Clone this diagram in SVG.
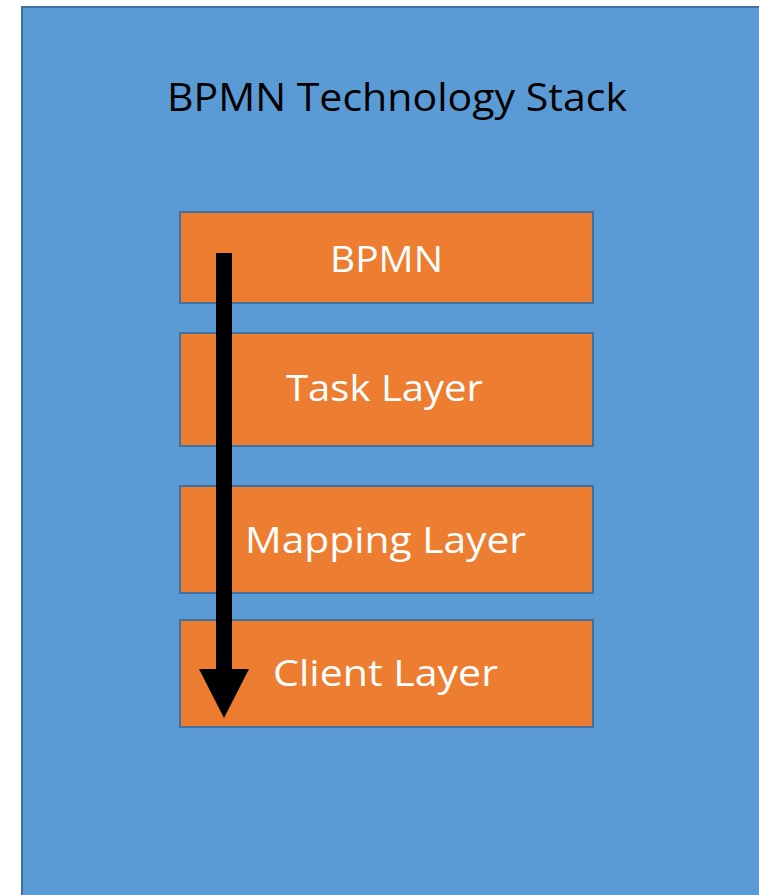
<svg xmlns="http://www.w3.org/2000/svg" width="759" height="895" viewBox="0 0 759 895">
  <style>
    .panel { fill: #5B9BD5; stroke: #41719C; stroke-width: 2; }
    .layer { fill: #ED7D31; stroke: #41719C; stroke-width: 2; }
    .title { font-family: "Open Sans", "Liberation Sans", sans-serif; font-size: 39px; fill: #000000; text-anchor: middle; }
    .label { font-family: "Open Sans", "Liberation Sans", sans-serif; font-size: 37px; fill: #FFFFFF; text-anchor: middle; }
  </style>
  <rect width="759" height="895" fill="#FFFFFF"/>

  <!-- outer panel -->
  <g id="stack">
    <rect class="panel" x="22" y="7" width="745" height="900"/>
    <text class="title" x="397" y="111" textLength="460" lengthAdjust="spacingAndGlyphs">BPMN Technology Stack</text>
  </g>

  <!-- layers -->
  <g id="bpmn">
    <rect class="layer" x="180" y="212" width="413" height="91"/>
    <text class="label" x="386.5" y="272" textLength="113" lengthAdjust="spacingAndGlyphs">BPMN</text>
  </g>
  <g id="task-layer">
    <rect class="layer" x="180" y="333" width="413" height="113"/>
    <text class="label" x="384.5" y="401" textLength="197" lengthAdjust="spacingAndGlyphs">Task Layer</text>
  </g>
  <g id="mapping-layer">
    <rect class="layer" x="180" y="486" width="413" height="107"/>
    <text class="label" x="385.5" y="553" textLength="281" lengthAdjust="spacingAndGlyphs">Mapping Layer</text>
  </g>
  <g id="client-layer">
    <rect class="layer" x="180" y="620" width="413" height="107"/>
    <text class="label" x="385.5" y="686" textLength="225" lengthAdjust="spacingAndGlyphs">Client Layer</text>
  </g>

  <!-- flow arrow -->
  <g id="connectors">
    <polygon fill="#000000" points="216,253 232,253 232,669 249,669 224,718 199,669 216,669"/>
  </g>
</svg>
